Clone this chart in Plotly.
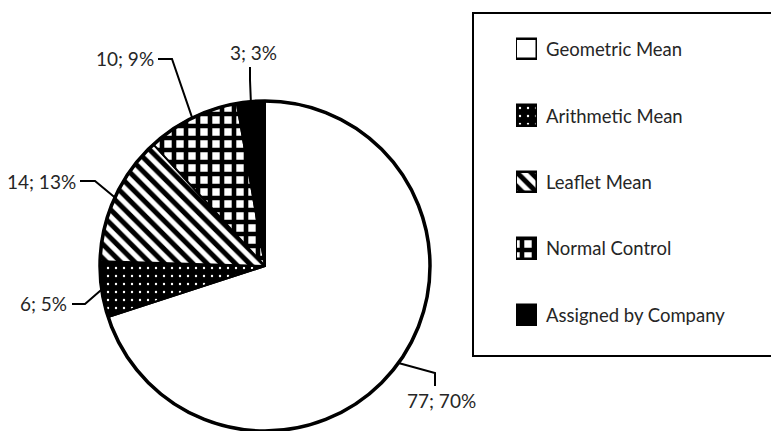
import math
import plotly.graph_objects as go

# ---- data ----
methods = ["Geometric Mean", "Arithmetic Mean", "Leaflet Mean", "Normal Control", "Assigned by Company"]
counts = [77, 6, 14, 10, 3]
percents = [70, 5, 13, 9, 3]

# ---- styling per method ----
base_colors = ["white", "black", "white", "white", "black"]
pattern_shapes = ["", ".", "\\", "+", ""]
pattern_fg = ["black", "white", "black", "black", "black"]
pattern_bg = ["white", "black", "white", "white", "black"]
pattern_size = [8, 8, 10, 12, 8]
pattern_solidity = [0.3, 0.07, 0.5, 0.62, 0.3]

W, H = 771, 431
FONT = "Lato"
TEXT_COLOR = "#262626"

# pie placement in pixels
cx, cy, r = 265, 266, 165


def px(x):
    return x / W


def py(y):
    return 1 - y / H


# label placement: (elbow point, line end, text position, anchor)
label_layout = [
    ((435, 373), (435, 386), (442, 400), "center"),
    ((85, 304), (72, 304), (69, 303), "right"),
    ((95, 181), (80, 181), (78, 181), "right"),
    ((172, 59), (158, 59), (156, 59), "right"),
    ((250, 80), (250, 67), (253, 52), "center"),
]

fig = go.Figure()

fig.add_trace(go.Pie(
    labels=methods,
    values=counts,
    sort=False,
    direction="clockwise",
    rotation=0,
    textinfo="none",
    hoverinfo="skip",
    showlegend=False,
    domain=dict(x=[px(cx - r), px(cx + r)], y=[py(cy + r), py(cy - r)]),
    marker=dict(
        colors=base_colors,
        line=dict(color="black", width=2),
        pattern=dict(
            shape=pattern_shapes,
            fgcolor=pattern_fg,
            bgcolor=pattern_bg,
            size=pattern_size,
            solidity=pattern_solidity,
            fillmode="replace",
        ),
    ),
))

# thicker outer rim of the pie
shapes = [dict(
    type="circle", xref="paper", yref="paper",
    x0=px(cx - r), x1=px(cx + r), y0=py(cy + r), y1=py(cy - r),
    line=dict(color="black", width=3.5), fillcolor="rgba(0,0,0,0)",
)]

annotations = []
total = sum(counts)
cum = 0
for i, v in enumerate(counts):
    mid = (cum + v / 2) / total * 2 * math.pi
    cum += v
    ex = cx + r * math.sin(mid)
    ey = cy - r * math.cos(mid)
    (bx, by), (lx, ly), (tx, ty), anchor = label_layout[i]
    shapes.append(dict(
        type="path", xref="paper", yref="paper",
        path=f"M{px(ex)},{py(ey)} L{px(bx)},{py(by)} L{px(lx)},{py(ly)}",
        line=dict(color="black", width=2),
    ))
    annotations.append(dict(
        x=px(tx), y=py(ty), xref="paper", yref="paper",
        text=f"{v}; {percents[i]}%", showarrow=False,
        xanchor=anchor, yanchor="middle",
        font=dict(family=FONT, size=19, color=TEXT_COLOR),
    ))

# legend box
shapes.append(dict(
    type="rect", xref="paper", yref="paper",
    x0=px(473), x1=px(W + 5), y0=py(356), y1=py(13),
    line=dict(color="black", width=2), fillcolor="rgba(0,0,0,0)",
))

# legend swatches: one small patterned bar per method
for i, m in enumerate(methods):
    pat = dict(shape=pattern_shapes[i], fgcolor=pattern_fg[i], bgcolor=pattern_bg[i],
               size=pattern_size[i], solidity=pattern_solidity[i], fillmode="replace")
    fig.add_trace(go.Bar(
        x=[1],
        y=[m],
        base=0,
        orientation="h",
        width=0.31,
        showlegend=False,
        hoverinfo="skip",
        marker=dict(
            color=base_colors[i],
            line=dict(color="black", width=2.5),
            pattern=pat,
        ),
    ))
    annotations.append(dict(
        x=1, y=m, xref="x", yref="y", xshift=7,
        text=m, showarrow=False, xanchor="left", yanchor="middle",
        font=dict(family=FONT, size=18.5, color=TEXT_COLOR),
    ))

fig.update_layout(
    width=W, height=H,
    margin=dict(l=0, r=0, t=0, b=0),
    paper_bgcolor="white", plot_bgcolor="rgba(0,0,0,0)",
    font=dict(family=FONT, color=TEXT_COLOR),
    xaxis=dict(domain=[px(516), px(537)], range=[0, 1], visible=False, fixedrange=True),
    yaxis=dict(domain=[py(348), py(16)], type="category",
               categoryorder="array", categoryarray=methods,
               range=[len(methods) - 0.5, -0.5], visible=False, fixedrange=True),
    shapes=shapes,
    annotations=annotations,
    barmode="overlay",
    bargap=0,
)

fig.write_html("out.html")
